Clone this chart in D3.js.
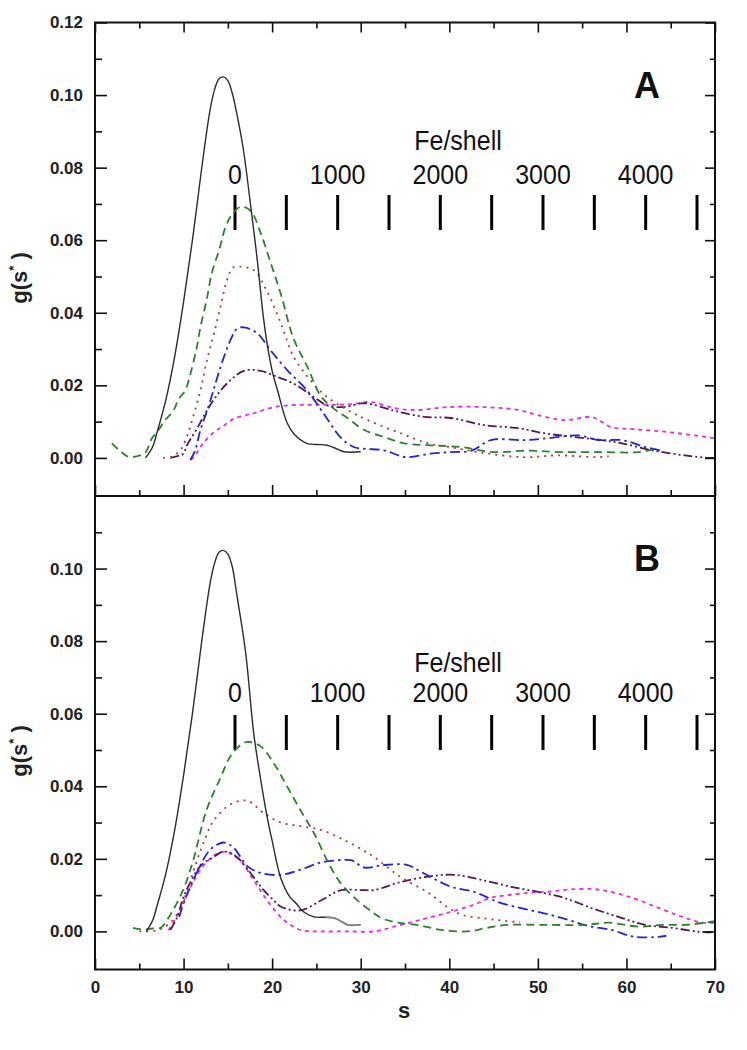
<!DOCTYPE html>
<html><head><meta charset="utf-8">
<script src="https://cdn.jsdelivr.net/npm/d3@7"></script>
<style>body{margin:0;background:#fff} text{font-family:Arial,"Liberation Sans",sans-serif}</style>
</head><body><svg id="c" width="747" height="1050"></svg>
<script>
// ---------- data: [s, g(s*)] ----------
const blackA = [[5.7,0],[6.5,0.003],[7,0.007],[8,0.016],[9,0.028],[10,0.043],[11,0.06],[12,0.079],[12.5,0.088],[13,0.096],[13.5,0.1015],[14,0.1045],[14.5,0.105],[15,0.104],[15.5,0.1005],[16,0.095],[16.75,0.085],[17.5,0.071],[18.3,0.055],[19,0.039],[19.4,0.032],[20,0.024],[20.6,0.0187],[21.7,0.0096],[22.5,0.0065],[23.9,0.004],[25,0.0037],[26.2,0.0035],[27,0.0028],[28.1,0.0017],[30,0.0017]];
const greenA = [[1.9,0.004],[2.8,0.002],[3.8,0.0003],[4.8,0.0005],[5.7,0.0015],[6.4,0.0053],[7.15,0.0076],[7.9,0.0104],[8.85,0.013],[9.4,0.016],[10.2,0.0187],[10.8,0.0234],[11.5,0.0306],[11.9,0.036],[12.6,0.0435],[13.2,0.051],[14.1,0.058],[14.7,0.0634],[15.5,0.0672],[16.5,0.0693],[17.6,0.068],[18.7,0.062],[19.8,0.054],[21,0.045],[22.4,0.033],[24,0.025],[25.5,0.017],[27,0.0135],[28.5,0.011],[30.4,0.0077],[32.6,0.0058],[34.9,0.004],[37.6,0.0035],[41.3,0.003],[45,0.0016],[48.9,0.002],[52.7,0.0016],[57.2,0.0016],[61.4,0.0016],[63.6,0.0027]];
const redA = [[7.7,0],[8.6,0.0003],[9.6,0.002],[10.4,0.006],[11.1,0.0115],[11.9,0.0185],[12.6,0.0265],[13.4,0.034],[14.2,0.042],[14.9,0.049],[15.6,0.0525],[16.4,0.0527],[17.9,0.0518],[19.4,0.046],[21,0.037],[22.4,0.028],[24.3,0.0215],[26.2,0.0168],[28.5,0.0132],[30.8,0.0104],[34.5,0.0068],[37.6,0.004],[40,0.003],[44,0.0013],[48.5,0.0002],[52.3,0.0007],[56.8,0.0002],[58,0.0005]];
const blueA = [[10.75,-0.0006],[11.3,0.002],[11.9,0.0077],[12.8,0.014],[13.6,0.0205],[14.3,0.026],[15.3,0.0325],[16,0.0355],[16.8,0.036],[18.3,0.0344],[19.8,0.0297],[21.7,0.0242],[23.9,0.0187],[25.8,0.0123],[27.7,0.0057],[29.2,0.003],[30.5,0.0025],[32.6,0.0021],[35.1,0.0002],[37.9,0.0012],[40.2,0.0016],[42.5,0.002],[44.7,0.0049],[48.5,0.0049],[51.5,0.0055],[54.6,0.0062],[56.8,0.0049],[59.5,0.0049],[62.1,0.003],[64,0.002]];
const purpleA = [[8.5,0],[9.3,0.0005],[9.9,0.001],[10.5,0.004],[11.5,0.008],[12.5,0.0125],[13.4,0.016],[14.9,0.0205],[16.8,0.024],[18.7,0.024],[20.6,0.0223],[22.4,0.0205],[24.7,0.0168],[26.2,0.0145],[28.1,0.014],[30,0.015],[30.8,0.015],[33.8,0.013],[37.2,0.0113],[40.2,0.011],[44,0.009],[47.8,0.0082],[50.7,0.0068],[54,0.0058],[57.2,0.0049],[59.5,0.004],[62.9,0.0021],[66.6,0.0007],[69.3,0],[70,0]];
const magentaA = [[10.8,-0.0005],[11.2,0.0003],[12.2,0.004],[13.4,0.007],[14.5,0.0088],[15.6,0.0107],[17.1,0.0118],[17.9,0.0123],[20.2,0.014],[22.9,0.0146],[25.5,0.0146],[28.9,0.0148],[31.1,0.0154],[33.8,0.0137],[36.4,0.0132],[39.8,0.014],[44,0.014],[47.8,0.0132],[50,0.0118],[53,0.0104],[56.1,0.0112],[58.3,0.0085],[60.9,0.0079],[64.8,0.0071],[70,0.0054]];

const blackB = [[5.8,0],[6.5,0.003],[7,0.007],[8,0.016],[9,0.028],[10,0.043],[11,0.06],[12,0.079],[12.5,0.088],[13,0.096],[13.5,0.1015],[14,0.1045],[14.5,0.105],[15,0.104],[15.5,0.1005],[16,0.093],[17,0.077],[17.9,0.055],[18.5,0.045],[19.4,0.032],[20,0.025],[21,0.0145],[22,0.0095],[22.8,0.0075],[23.5,0.0055],[24.7,0.004],[26,0.0039],[27,0.0037],[28,0.0025],[28.5,0.0018],[30,0.0018]];
const greenB = [[4.3,0.001],[5.5,0.0005],[6.5,0.0008],[7.4,0.001],[8.6,0.005],[10,0.0117],[11.1,0.0197],[12.6,0.0335],[14.2,0.0425],[15.3,0.0483],[16.8,0.052],[17.5,0.0522],[18.7,0.051],[20.2,0.0463],[21.7,0.0399],[23.2,0.0334],[24.7,0.0272],[26.2,0.0196],[27.7,0.0134],[29.6,0.0086],[31.5,0.005],[32.5,0.0035],[34.2,0.0024],[36.4,0.0018],[39.1,0.0004],[42.1,0],[44.3,0.001],[46.6,0.0018],[50.7,0.0018],[55.3,0.0018],[58,0.0024],[61.4,0.0013],[64,0.0018],[66.6,0.0018],[68.9,0.0024],[70,0.0028]];
const redB = [[5,0],[7,0.0003],[8.3,0.002],[9.6,0.006],[10.5,0.012],[11.5,0.0195],[12.5,0.026],[13.4,0.0305],[15.3,0.035],[17.2,0.036],[19.1,0.0325],[21,0.030],[23.2,0.029],[25.5,0.028],[28.1,0.0252],[30.2,0.0225],[31.5,0.0205],[34.5,0.015],[37.6,0.0107],[39.8,0.0067],[41.5,0.0045],[43.6,0.0037],[46,0.003],[48,0.0025]];
const blueB = [[9.5,0.004],[10.2,0.009],[11.5,0.0162],[13,0.0225],[14.5,0.0245],[15.6,0.0232],[17.2,0.018],[18.7,0.0161],[21,0.0156],[23.2,0.017],[25.5,0.019],[28.1,0.0197],[29,0.0196],[30.4,0.0176],[32.6,0.0183],[35.3,0.0183],[36.8,0.0164],[40.2,0.0123],[42.8,0.0109],[45.5,0.0081],[48.1,0.0064],[50.7,0.005],[53.4,0.0032],[55.7,0.0015],[58.3,0.0004],[60.9,-0.0015],[63.6,-0.0015],[64.5,-0.0012]];
const purpleB = [[8.5,0.0004],[9.3,0.004],[10,0.0095],[11.9,0.018],[13.4,0.0205],[14.5,0.022],[16,0.0205],[17.9,0.015],[19,0.0115],[20.2,0.0085],[21,0.0068],[23.2,0.0058],[25.5,0.0085],[27.7,0.0113],[30,0.0114],[31.5,0.0114],[34.5,0.0136],[37.6,0.0151],[40.5,0.0156],[43.6,0.0142],[47,0.0123],[50,0.0109],[53,0.0092],[56.1,0.0064],[59.1,0.004],[62.1,0.0018],[65.1,0.001],[68.2,-0.0001],[70,-0.0003]];
const magentaB = [[8.3,0.0003],[9.2,0.004],[10.8,0.0123],[12.2,0.018],[13.8,0.0215],[14.9,0.0219],[16.4,0.0195],[17.9,0.0142],[19.4,0.0087],[21.3,0.0032],[23.2,0.0004],[25.5,0],[28.5,0],[31.5,0],[33.8,0.0013],[36,0.0027],[37.6,0.0037],[40.2,0.0054],[42.8,0.0074],[44.7,0.0093],[47,0.0101],[49.3,0.0107],[51.5,0.011],[53.4,0.0115],[56.1,0.0117],[58,0.011],[60.6,0.0093],[63.6,0.0065],[66.3,0.004],[68.5,0.0024],[70,0.0024]];

const xMajorTicks = [0,10,20,30,40,50,60,70];
const xMinorTicks = [5,15,25,35,45,55,65];
const yMajorTicksA = [0,0.02,0.04,0.06,0.08,0.10,0.12];
const yMajorTicksB = [0,0.02,0.04,0.06,0.08,0.10];
const yMinorTicks = [0.01,0.03,0.05,0.07,0.09,0.11];
const feTicks = [0,500,1000,1500,2000,2500,3000,3500,4000,4500];
const feLabels = [0,1000,2000,3000,4000];

// ---------- drawing ----------
const svg = d3.select("#c");
const X0 = 95, X1 = 715;
const x = d3.scaleLinear().domain([0,70]).range([X0,X1]);
const fe = d3.scaleLinear().domain([0,4500]).range([235,697]);

const styles = {
  black:  {c:"#2b2b2b", w:1.4, d:null},
  green:  {c:"#2f7f2f", w:1.8, d:"8,5"},
  red:    {c:"#b83838", w:1.8, d:"2,5"},
  blue:   {c:"#2424d8", w:1.8, d:"10,4,2.5,4"},
  purple: {c:"#521a4f", w:1.8, d:"9,3,2,3,2,3"},
  magenta:{c:"#e02ee0", w:1.8, d:"4,4"}
};

const panels = [
  {id:"A", top:22.5, bottom:496, yMajor:yMajorTicksA, labelY:85, gLabelY:278,
   fe:{title:140, labels:174, t0:195, t1:230},
   series:[["magenta",magentaA],["purple",purpleA],["blue",blueA],["red",redA],["green",greenA],["black",blackA]], xlabels:false},
  {id:"B", top:496, bottom:969.5, yMajor:yMajorTicksB, labelY:558, gLabelY:751,
   fe:{title:662, labels:692, t0:715, t1:750},
   series:[["magenta",magentaB],["purple",purpleB],["blue",blueB],["red",redB],["green",greenB],["black",blackB]], xlabels:true}
];

panels.forEach((p,i) => {
  const y = d3.scaleLinear().domain([-0.0105,0.12]).range([p.bottom,p.top]);
  const g = svg.append("g");
  const clipId = "clip"+p.id;
  svg.append("clipPath").attr("id",clipId).append("rect")
    .attr("x",X0).attr("y",p.top).attr("width",X1-X0).attr("height",p.bottom-p.top);

  // Fe/shell secondary scale
  const feg = g.append("g");
  feg.selectAll("line").data(feTicks).join("line")
    .attr("x1",d=>fe(d)).attr("x2",d=>fe(d)).attr("y1",p.fe.t0).attr("y2",p.fe.t1)
    .attr("stroke","#000").attr("stroke-width",3);
  feg.selectAll("text.fl").data(feLabels).join("text").attr("class","fl")
    .attr("transform",d=>`translate(${fe(d)},${p.fe.labels+9.8}) scale(1,1.1)`)
    .attr("text-anchor","middle").attr("font-size",25).attr("fill","#111").text(d=>d);
  feg.append("text")
    .attr("transform",`translate(458,${p.fe.title+9.8}) scale(1,1.1)`)
    .attr("text-anchor","middle").attr("font-size",25).attr("fill","#111").text("Fe/shell");

  // curves
  const line = d3.line().x(d=>x(d[0])).y(d=>y(d[1])).curve(d3.curveCatmullRom.alpha(0.5));
  const cg = g.append("g").attr("clip-path",`url(#${clipId})`);
  p.series.forEach(([k,data]) => {
    const s = styles[k];
    cg.append("path").attr("d",line(data)).attr("fill","none")
      .attr("stroke",s.c).attr("stroke-width",s.w)
      .attr("stroke-dasharray",s.d).attr("stroke-linejoin","round");
  });
  if (p.id==="B") {
    cg.append("path").attr("d",line(blackB.filter(d=>d[0]>=26))).attr("fill","none")
      .attr("stroke","#8a8a8a").attr("stroke-width",1.8);
  }

  // axes
  const axL = d3.axisLeft(y).tickValues(p.yMajor).tickSize(-12).tickPadding(12).tickFormat(d3.format(".2f"));
  const axLm = d3.axisLeft(y).tickValues(yMinorTicks).tickSize(-7).tickFormat("");
  const axR = d3.axisRight(y).tickValues(p.yMajor).tickSize(-10).tickFormat("");
  const axRm = d3.axisRight(y).tickValues(yMinorTicks).tickSize(-5).tickFormat("");
  const axB = d3.axisBottom(x).tickValues(xMajorTicks).tickSize(-11).tickPadding(11.5).tickFormat(p.xlabels? d3.format("d") : "");
  const axBm = d3.axisBottom(x).tickValues(xMinorTicks).tickSize(-6).tickFormat("");
  const axT = d3.axisTop(x).tickValues(xMajorTicks).tickSize(-10).tickFormat("");
  const axTm = d3.axisTop(x).tickValues(xMinorTicks).tickSize(-6).tickFormat("");

  const put = (ax, tr) => {
    const a = g.append("g").attr("transform",tr).call(ax);
    a.select(".domain").remove();
    a.selectAll("line").attr("stroke","#111").attr("stroke-width",1.6);
    a.selectAll("text").attr("font-size",17).attr("font-weight","bold").attr("fill","#222")
      .attr("font-family","Arial, 'Liberation Sans', sans-serif");
    return a;
  };
  put(axL, `translate(${X0},0)`);
  put(axLm, `translate(${X0},0)`);
  put(axR, `translate(${X1},0)`);
  put(axRm, `translate(${X1},0)`);
  put(axB, `translate(0,${p.bottom})`);
  put(axBm, `translate(0,${p.bottom})`);
  if (i===0) { put(axT, `translate(0,${p.top})`); put(axTm, `translate(0,${p.top})`); }

  // frame
  g.append("rect").attr("x",X0).attr("y",p.top).attr("width",X1-X0).attr("height",p.bottom-p.top)
    .attr("fill","none").attr("stroke","#111").attr("stroke-width",2);

  // panel letter
  g.append("text").attr("x",647).attr("y",p.labelY+13).attr("text-anchor","middle")
    .attr("font-size",36).attr("font-weight","bold").attr("fill","#111").text(p.id);

  // y label
  const yl = g.append("text").attr("transform",`translate(27,${p.gLabelY}) rotate(-90)`)
    .attr("text-anchor","middle").attr("font-size",22).attr("font-weight","bold").attr("fill","#222");
  yl.append("tspan").text("g(s");
  yl.append("tspan").attr("dy",-9).attr("font-size",13).text("*");
  yl.append("tspan").attr("dy",9).text(" )");
});

svg.append("text").attr("x",404).attr("y",1018).attr("text-anchor","middle")
  .attr("font-size",22).attr("font-weight","bold").attr("fill","#222").text("s");
</script></body></html>
